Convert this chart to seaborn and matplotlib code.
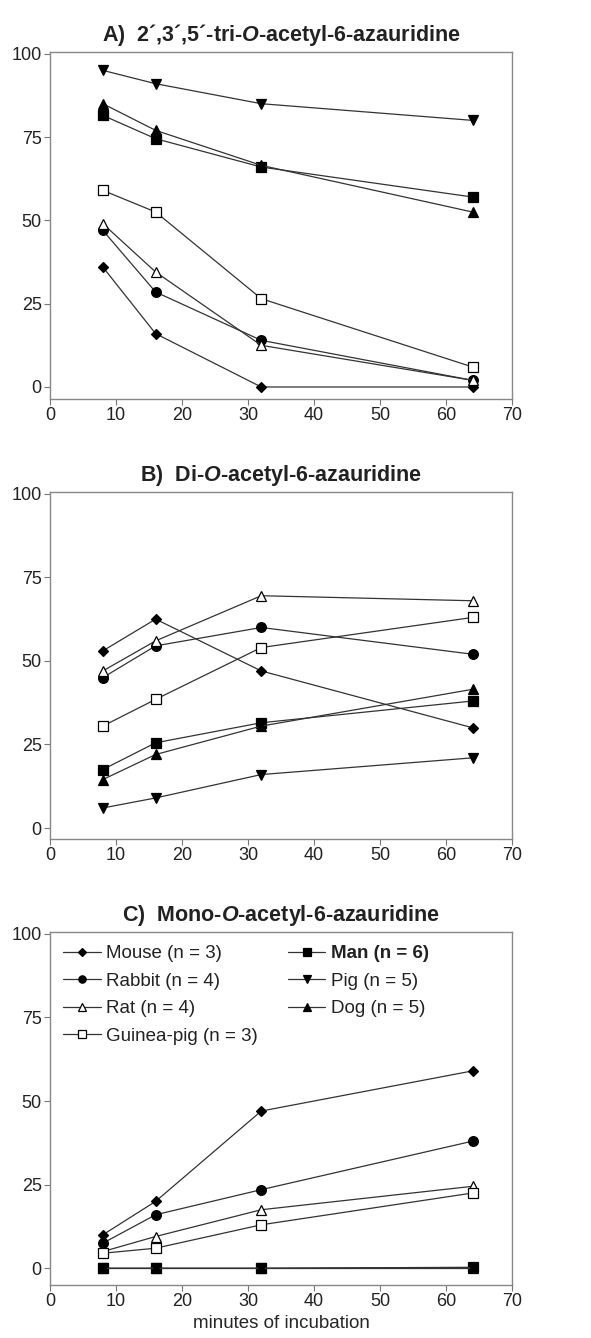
import matplotlib
matplotlib.use("Agg")
import matplotlib.pyplot as plt
import seaborn as sns
import numpy as np

sns.set_theme(style="white")
plt.rcParams['font.family'] = ['Liberation Sans', 'DejaVu Sans']
plt.rcParams['mathtext.fontset'] = 'custom'
plt.rcParams['mathtext.rm'] = 'Liberation Sans'
plt.rcParams['mathtext.it'] = 'Liberation Sans:italic'
plt.rcParams['mathtext.bf'] = 'Liberation Sans:bold'
plt.rcParams['mathtext.bfit'] = 'Liberation Sans:bold:italic'

minutes = [8, 16, 32, 64]
species = ["Mouse", "Rabbit", "Rat", "Guinea-pig", "Man", "Pig", "Dog"]
labels = ["Mouse (n = 3)", "Rabbit (n = 4)", "Rat (n = 4)", "Guinea-pig (n = 3)",
          "Man (n = 6)", "Pig (n = 5)", "Dog (n = 5)"]

# Panel A: tri-O-acetyl
tri_mouse = [36, 16, 0, 0]
tri_rabbit = [47, 28.5, 14, 2]
tri_rat = [49, 34.5, 12.5, 2]
tri_guinea = [59, 52.5, 26.5, 6]
tri_man = [81.5, 74.5, 66, 57]
tri_pig = [95, 91, 85, 80]
tri_dog = [85, 77, 66.5, 52.5]

# Panel B: di-O-acetyl
di_mouse = [53, 62.5, 47, 30]
di_rabbit = [45, 54.5, 60, 52]
di_rat = [47, 56, 69.5, 68]
di_guinea = [30.5, 38.5, 54, 63]
di_man = [17.5, 25.5, 31.5, 38]
di_pig = [6, 9, 16, 21]
di_dog = [14.5, 22, 30.5, 41.5]

# Panel C: mono-O-acetyl
mono_mouse = [10, 20, 47, 59]
mono_rabbit = [7.5, 16, 23.5, 38]
mono_rat = [5, 9.5, 17.5, 24.5]
mono_guinea = [4.5, 6, 13, 22.5]
mono_man = [0, 0, 0, 0.3]
mono_pig = [0, 0, 0, 0.2]
mono_dog = [0, 0, 0, 0]

panels = [
    (r"A)  2´,3´,5´-tri-$\mathbfit{O}$-acetyl-6-azauridine",
     [tri_mouse, tri_rabbit, tri_rat, tri_guinea, tri_man, tri_pig, tri_dog]),
    (r"B)  Di-$\mathbfit{O}$-acetyl-6-azauridine",
     [di_mouse, di_rabbit, di_rat, di_guinea, di_man, di_pig, di_dog]),
    (r"C)  Mono-$\mathbfit{O}$-acetyl-6-azauridine",
     [mono_mouse, mono_rabbit, mono_rat, mono_guinea, mono_man, mono_pig, mono_dog]),
]

styles = {
    "Mouse": dict(marker="D", mfc="black", ms=5),
    "Rabbit": dict(marker="o", mfc="black", ms=7),
    "Rat": dict(marker="^", mfc="white", ms=7),
    "Guinea-pig": dict(marker="s", mfc="white", ms=7),
    "Man": dict(marker="s", mfc="black", ms=7),
    "Pig": dict(marker="v", mfc="black", ms=7),
    "Dog": dict(marker="^", mfc="black", ms=7),
}

fig = plt.figure(figsize=(5.91, 13.38), dpi=100)
positions = [
    [0.0846, 0.7018, 0.782, 0.2593],
    [0.0846, 0.3729, 0.782, 0.2593],
    [0.0846, 0.0396, 0.782, 0.2638],
]
ylims = [(-3.6, 100.5), (-3.3, 100.5), (-5, 100.5)]

for i, (title, series) in enumerate(panels):
    ax = fig.add_axes(positions[i])
    for name, lab, vals in zip(species, labels, series):
        st = styles[name]
        sns.lineplot(x=minutes, y=vals, ax=ax, color="#333333", linewidth=0.9,
                     marker=st["marker"], markersize=st["ms"],
                     markerfacecolor=st["mfc"], markeredgecolor="black",
                     markeredgewidth=0.9, label=lab if i == 2 else None,
                     legend=False)
    ax.set_xlim(0, 70)
    ax.set_ylim(*ylims[i])
    ax.set_xticks([0, 10, 20, 30, 40, 50, 60, 70])
    ax.set_yticks([0, 25, 50, 75, 100])
    ax.tick_params(axis="both", which="both", direction="out", length=4,
                   width=0.8, color="#777777", labelsize=13, pad=2,
                   left=True, bottom=True, labelcolor="#222222")
    for sp in ax.spines.values():
        sp.set_color("#888888")
        sp.set_linewidth(1.0)
    ax.set_title(title, fontsize=15.5, fontweight="bold", pad=8, color="#222222")
    ax.set_xlabel("")
    ax.set_ylabel("")
    if i == 2:
        ax.set_xlabel("minutes of incubation", fontsize=13.5, labelpad=3)
        leg = ax.legend(loc="upper left", ncol=2, frameon=False, fontsize=13.5,
                        handlelength=2.0, handletextpad=0.3, labelspacing=0.55,
                        columnspacing=1.6, borderaxespad=0.3, markerscale=0.75)
        for t in leg.get_texts():
            t.set_color("#222222")
            if t.get_text().startswith("Man"):
                t.set_fontweight("bold")

fig.savefig("out.png", dpi=100)
